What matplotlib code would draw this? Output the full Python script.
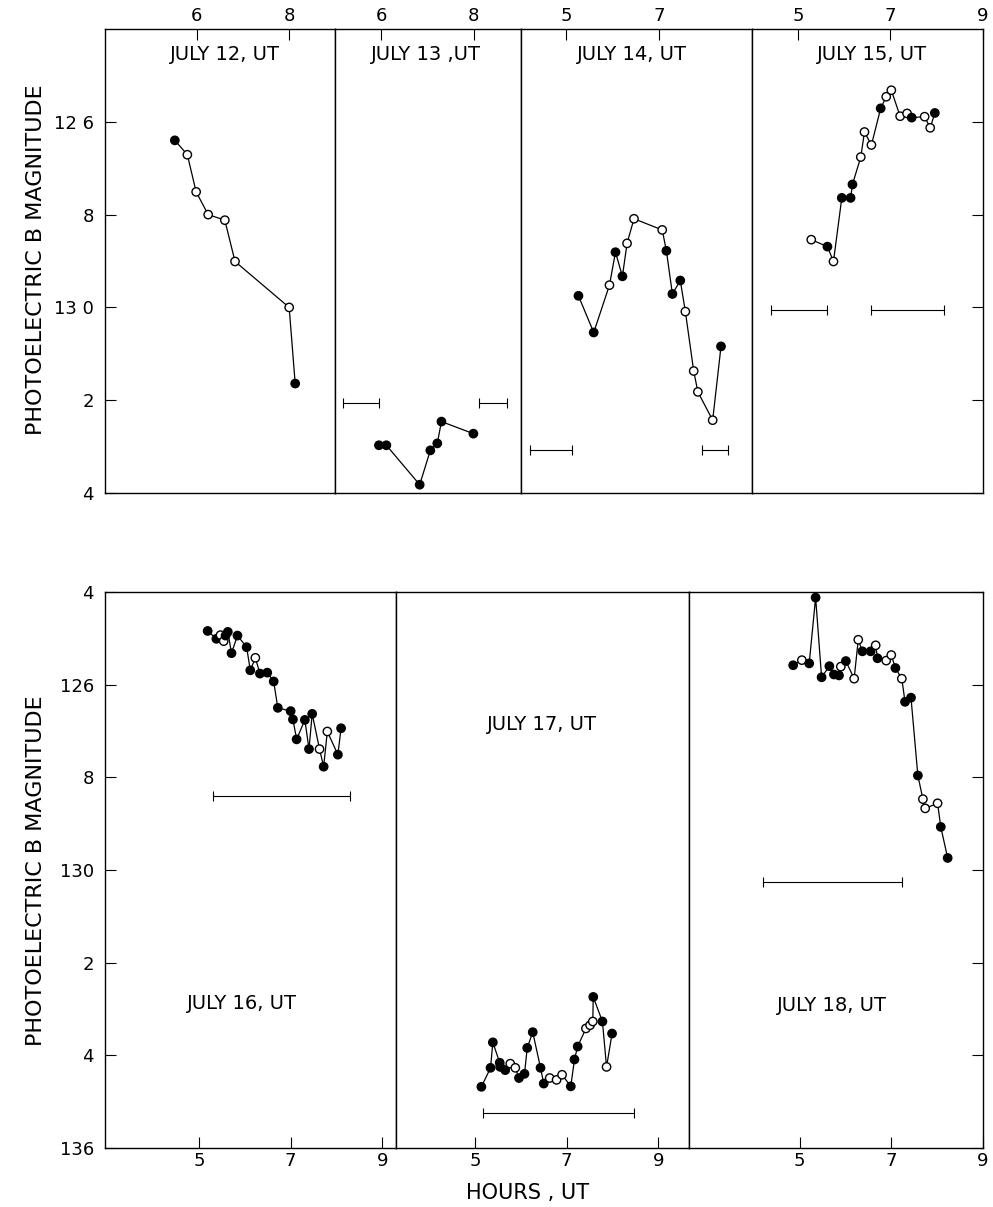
import matplotlib
matplotlib.use("Agg")
import matplotlib.pyplot as plt

plt.rcParams["font.family"] = ["DejaVu Sans"]

# ---- data (hours UT, photoelectric B magnitude) ----
jul12_hr   = [5.53, 5.80, 5.99, 6.25, 6.61, 6.83, 8.00, 8.13]
jul12_mag  = [12.640, 12.671, 12.751, 12.800, 12.812, 12.901, 13.000, 13.164]
jul12_open = [1, 2, 3, 4, 5, 6]
jul12_bars = []

jul13_hr   = [5.95, 6.11, 6.83, 7.06, 7.21, 7.30, 7.99]
jul13_mag  = [13.297, 13.297, 13.382, 13.308, 13.293, 13.246, 13.272]
jul13_open = []
jul13_bars = [(5.17, 5.95, 13.205), (8.12, 8.71, 13.205)]

jul14_hr   = [5.26, 5.59, 5.93, 6.06, 6.21, 6.31, 6.46, 7.07,
              7.16, 7.29, 7.46, 7.57, 7.75, 7.84, 8.16, 8.34]
jul14_mag  = [12.975, 13.054, 12.952, 12.881, 12.933, 12.862, 12.809, 12.833,
              12.878, 12.971, 12.942, 13.009, 13.137, 13.182, 13.243, 13.084]
jul14_open = [2, 5, 6, 7, 11, 12, 13, 14]
jul14_bars = [(4.21, 5.11, 13.308), (7.94, 8.50, 13.308)]

jul15_hr   = [5.29, 5.64, 5.77, 5.95, 6.14, 6.18, 6.36, 6.44, 6.59,
              6.79, 6.91, 7.02, 7.21, 7.36, 7.46, 7.74, 7.86, 7.96]
jul15_mag  = [12.854, 12.869, 12.901, 12.764, 12.764, 12.735, 12.676, 12.622, 12.650,
              12.571, 12.546, 12.532, 12.588, 12.582, 12.591, 12.589, 12.613, 12.581]
jul15_open = [0, 2, 6, 7, 8, 10, 11, 12, 13, 15, 16]
jul15_bars = [(4.41, 5.64, 13.005), (6.59, 8.16, 13.005)]

jul16_hr   = [5.19, 5.38, 5.47, 5.54, 5.58, 5.63, 5.71, 5.84, 6.04, 6.12, 6.23, 6.33, 6.49,
              6.63, 6.72, 7.00, 7.05, 7.13, 7.31, 7.40, 7.47, 7.63, 7.72, 7.80, 8.03, 8.10]
jul16_mag  = [12.484, 12.501, 12.493, 12.506, 12.494, 12.486, 12.532, 12.494, 12.519,
              12.569, 12.542, 12.576, 12.574, 12.593, 12.650, 12.657, 12.675, 12.718,
              12.676, 12.739, 12.663, 12.739, 12.777, 12.701, 12.751, 12.694]
jul16_open = [2, 3, 10, 21, 23]
jul16_bars = [(5.31, 8.29, 12.840)]

jul17_hr   = [5.14, 5.34, 5.39, 5.54, 5.55, 5.66, 5.77, 5.88, 5.96, 6.08, 6.14, 6.26, 6.43, 6.50,
              6.63, 6.78, 6.90, 7.09, 7.17, 7.24, 7.42, 7.51, 7.57, 7.58, 7.78, 7.87, 7.99]
jul17_mag  = [13.468, 13.427, 13.372, 13.416, 13.425, 13.432, 13.418, 13.427, 13.449,
              13.440, 13.384, 13.350, 13.427, 13.461, 13.449, 13.453, 13.442, 13.467,
              13.409, 13.381, 13.342, 13.335, 13.327, 13.274, 13.327, 13.425, 13.353]
jul17_open = [6, 7, 14, 15, 16, 20, 21, 22, 25]
jul17_bars = [(5.17, 8.47, 13.525)]

jul18_hr   = [4.86, 5.05, 5.21, 5.35, 5.48, 5.65, 5.75, 5.86, 5.90, 6.01, 6.19, 6.28, 6.37, 6.55,
              6.66, 6.70, 6.89, 7.00, 7.09, 7.23, 7.30, 7.43, 7.58, 7.69, 7.74, 8.01, 8.08, 8.23]
jul18_mag  = [12.558, 12.547, 12.554, 12.412, 12.584, 12.560, 12.578, 12.580, 12.561,
              12.549, 12.587, 12.503, 12.528, 12.528, 12.515, 12.543, 12.548, 12.536,
              12.564, 12.587, 12.637, 12.628, 12.796, 12.847, 12.867, 12.856, 12.907, 12.974]
jul18_open = [1, 8, 10, 11, 14, 16, 17, 19, 23, 24, 25]
jul18_bars = [(4.20, 7.23, 13.025)]

top_titles    = ["JULY 12, UT", "JULY 13 ,UT", "JULY 14, UT", "JULY 15, UT"]
bottom_titles = ["JULY 16, UT", "JULY 17, UT", "JULY 18, UT"]

top_yticks       = [12.6, 12.8, 13.0, 13.2, 13.4]
top_yticklabels  = ["12 6", "8", "13 0", "2", "4"]
bot_yticks       = [12.4, 12.6, 12.8, 13.0, 13.2, 13.4, 13.6]
bot_yticklabels  = ["4", "126", "8", "130", "2", "4", "136"]


def draw_night(ax, hr, mag, open_idx, bars):
    ax.plot(hr, mag, color="k", lw=0.9, zorder=2)
    faces = ["white" if i in open_idx else "black" for i in range(len(hr))]
    ax.scatter(hr, mag, s=36, c=faces, edgecolors="k", linewidths=1.0, zorder=3)
    for start, end, m in bars:
        ax.errorbar((start + end) / 2, m, xerr=(end - start) / 2, fmt="none",
                    ecolor="k", elinewidth=0.8, capsize=3.5, capthick=0.8)


def style_axis(ax, xticks, top, first, last):
    ax.set_xticks(xticks)
    ax.set_xticklabels([str(t) for t in xticks])
    for sp in ax.spines.values():
        sp.set_linewidth(1.0)
    ax.tick_params(axis="x", direction="in", length=8, width=0.8, labelsize=13,
                   top=top, bottom=not top, labeltop=top, labelbottom=not top, pad=3)
    ax.tick_params(axis="y", direction="in", length=8, width=0.8, labelsize=13,
                   left=first, right=last, labelleft=first, labelright=False, pad=8)


def plot():
    fig = plt.figure(figsize=(9.93, 12.07), dpi=100)

    # top row: July 12-15
    top_nights = [
        (jul12_hr, jul12_mag, jul12_open, jul12_bars),
        (jul13_hr, jul13_mag, jul13_open, jul13_bars),
        (jul14_hr, jul14_mag, jul14_open, jul14_bars),
        (jul15_hr, jul15_mag, jul15_open, jul15_bars),
    ]
    top_xlims  = [(4.02, 9.0), (5.01, 9.02), (4.02, 9.0), (4.0, 9.0)]
    top_xticks = [[6, 8], [6, 8], [5, 7], [5, 7, 9]]
    top_title_x = [0.52, 0.49, 0.48, 0.52]
    gs_top = fig.add_gridspec(1, 4, left=0.1057, right=0.9899, top=0.976, bottom=0.5915,
                              wspace=0, width_ratios=[b - a for a, b in top_xlims])
    for i, night in enumerate(top_nights):
        ax = fig.add_subplot(gs_top[0, i])
        draw_night(ax, *night)
        ax.set_xlim(top_xlims[i])
        ax.set_ylim(13.4, 12.4)
        ax.set_yticks(top_yticks)
        ax.set_yticklabels(top_yticklabels)
        style_axis(ax, top_xticks[i], True, i == 0, i == 3)
        ax.text(top_title_x[i], 0.945, top_titles[i], transform=ax.transAxes,
                ha="center", va="center", fontsize=14)

    # bottom row: July 16-18
    bot_nights = [
        (jul16_hr, jul16_mag, jul16_open, jul16_bars),
        (jul17_hr, jul17_mag, jul17_open, jul17_bars),
        (jul18_hr, jul18_mag, jul18_open, jul18_bars),
    ]
    bot_xlims = [(2.95, 9.29), (3.27, 9.66), (2.58, 9.0)]
    bot_title_pos = [(0.471, 0.259), (0.499, 0.761), (0.488, 0.257)]
    gs_bot = fig.add_gridspec(1, 3, left=0.1057, right=0.9899, top=0.5095, bottom=0.0489,
                              wspace=0, width_ratios=[b - a for a, b in bot_xlims])
    for i, night in enumerate(bot_nights):
        ax = fig.add_subplot(gs_bot[0, i])
        draw_night(ax, *night)
        ax.set_xlim(bot_xlims[i])
        ax.set_ylim(13.6, 12.4)
        ax.set_yticks(bot_yticks)
        ax.set_yticklabels(bot_yticklabels)
        style_axis(ax, [5, 7, 9], False, i == 0, i == 2)
        tx, ty = bot_title_pos[i]
        ax.text(tx, ty, bottom_titles[i], transform=ax.transAxes,
                ha="center", va="center", fontsize=14)

    fig.text(0.036, 0.785, "PHOTOELECTRIC B MAGNITUDE", rotation=90,
             ha="center", va="center", fontsize=16)
    fig.text(0.036, 0.279, "PHOTOELECTRIC B MAGNITUDE", rotation=90,
             ha="center", va="center", fontsize=16)
    fig.text(528 / 993, 1 - 1193 / 1207, "HOURS , UT", ha="center", va="center", fontsize=15)

    fig.savefig("out.png", dpi=100)


def main():
    plot()


if __name__ == "__main__":
    main()
